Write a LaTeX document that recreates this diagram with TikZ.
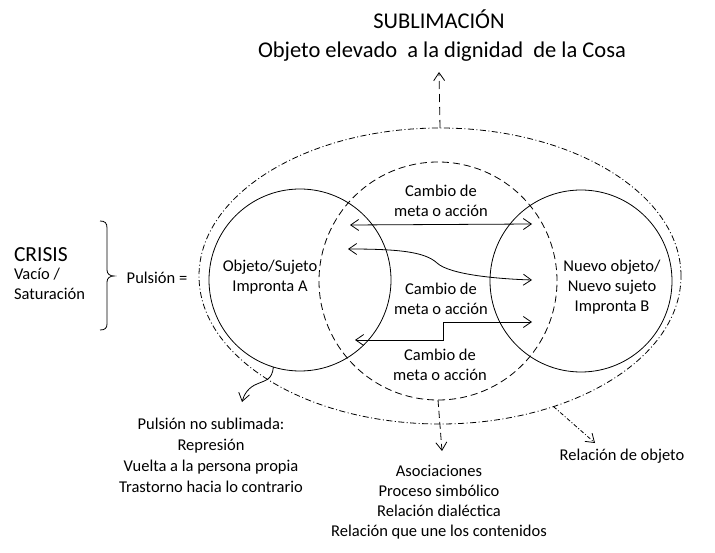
\documentclass[tikz,border=0pt]{standalone}
\usepackage{fontspec}
\setmainfont{Carlito}
\usetikzlibrary{arrows.meta,shapes.geometric}
\begin{document}
\begin{tikzpicture}[x=1pt,y=-1pt,
  every node/.style={inner sep=0pt,outer sep=0pt},
  txt/.style={font=\fontsize{16.5}{20}\selectfont,align=center},
  big/.style={font=\fontsize{22.5}{26}\selectfont},
  ln/.style={line width=0.8pt},
  tip/.style={-{Straight Barb[length=8pt,width=11pt]}},
  dtip/.style={{Straight Barb[length=8pt,width=11pt]}-{Straight Barb[length=8pt,width=11pt]}},
  dashdot/.style={dash pattern=on 6pt off 2.5pt on 1pt off 2.5pt},
  dashcirc/.style={dash pattern=on 7pt off 4pt},
  ring/.style={circle,draw,ln,minimum size=182pt}
]
\useasboundingbox (0,0) rectangle (715,553);
\fill[white] (0,0) rectangle (715,553);

% shapes
\node[ellipse,draw,ln,dashdot,minimum width=482pt,minimum height=296pt] (E) at (440,276) {};
\node[circle,draw,ln,dashcirc,minimum size=238pt] (M) at (438,281) {};
\node[ring] (A) at (300,280) {};
\node[ring] (B) at (581,281) {};

% titles
\node[big,anchor=base] (t1) at (439,29) {SUBLIMACIÓN};
\node[big,anchor=base] (t2) at (442,58) {Objeto elevado\ \ a la dignidad\ \ de la Cosa};

% left
\node[big,anchor=base west,font=\fontsize{21.5}{26}\selectfont] (crisis) at (14,262) {CRISIS};
\node[txt,align=left,anchor=west] (vacio) at (14,284) {Vacío /\\Saturación};
\node[txt] (puls) at (157,278) {Pulsión =};
\draw[ln] (100,221) .. controls (105,221) and (107,223) .. (107,228) -- (107,270)
  .. controls (107,274) and (110,276) .. (114,276)
  .. controls (110,276) and (107,278) .. (107,282) -- (107,324)
  .. controls (107,328) and (105,330) .. (100,330);

% circle texts
\node[txt] (tA) at (270,277) {Objeto/Sujeto\\Impronta A};
\node[txt] (tB) at (612,287) {Nuevo objeto/\\Nuevo sujeto\\Impronta B};
\node[txt] (c1) at (441,201) {Cambio de\\meta o acción};
\node[txt] (c2) at (441,299) {Cambio de\\meta o acción};
\node[txt] (c3) at (440,365) {Cambio de\\meta o acción};

% inner arrows
\coordinate (a1l) at (350,225);
\coordinate (a1r) at (532,224);
\coordinate (a2l) at (348,249);
\coordinate (a2r) at (532,280);
\coordinate (a3r) at (532,322);
\coordinate (a3l) at (355,340);
\draw[ln,dtip] (a1l) -- (a1r);
\draw[ln,dtip] (a2l) .. controls (400,249) and (425,252) .. (437,263)
  .. controls (450,275) and (500,279) .. (a2r);
\draw[ln,dtip] (a3r) -- (443,322) -- (443,340) -- (a3l);

% outer arrows
\coordinate (up) at (439,72);
\draw[ln,tip,dash pattern=on 8pt off 5pt] (E.north) -- (up);
\coordinate (down) at (442,451);
\draw[ln,tip,dashcirc] (M.south) -- (down);
\coordinate (rel) at (595,443);
\draw[ln,tip,dash pattern=on 4pt off 2pt on 1pt off 2pt] (E.-49) -- (rel);
\coordinate (ns) at (242,402);
\draw[ln,tip] (A.-107) .. controls (272,380) and (266,380) .. (257,384)
  .. controls (249,387) and (244,394) .. (ns);

% bottom texts
\node[txt,font=\fontsize{16.5}{21}\selectfont] (nosub) at (211,455) {Pulsión no sublimada:\\Represión\\Vuelta a la persona propia\\Trastorno hacia lo contrario};
\node[txt] (asoc) at (439,502) {Asociaciones\\Proceso simbólico\\Relación dialéctica\\Relación que une los contenidos};
\node[txt] (relobj) at (622,456) {Relación de objeto};
\end{tikzpicture}
\end{document}
